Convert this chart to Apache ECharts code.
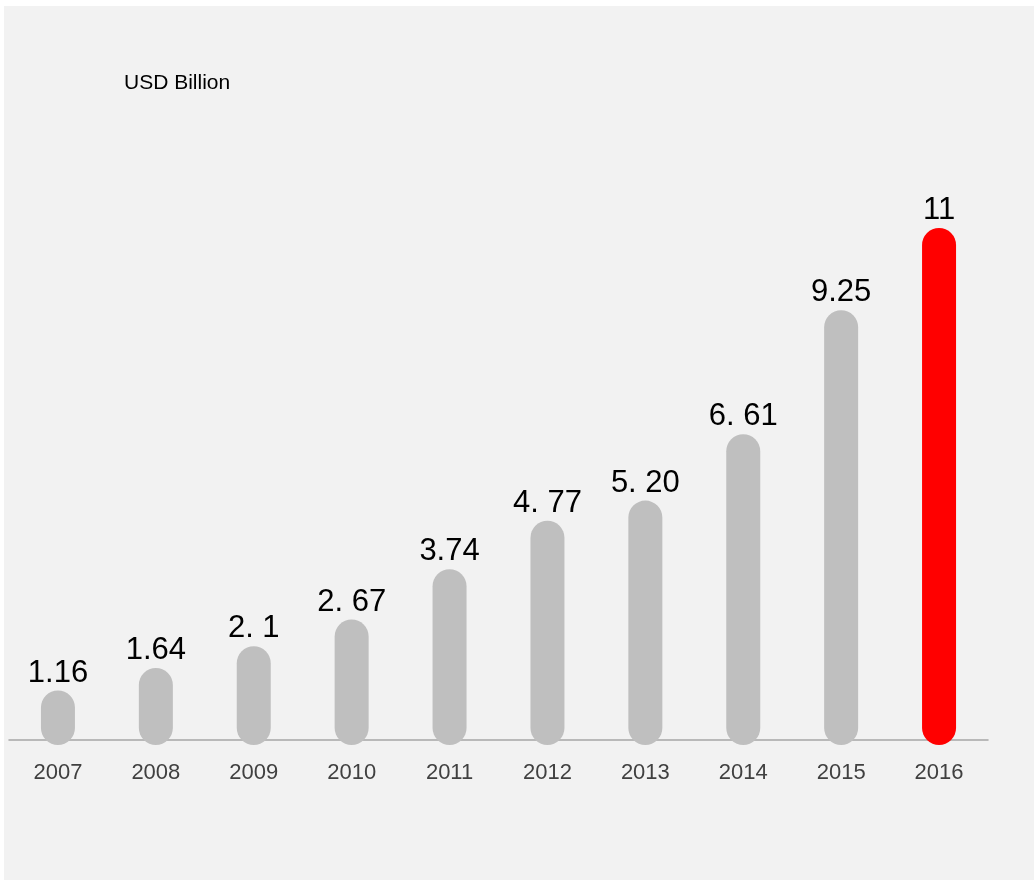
<!DOCTYPE html>
<html>
<head>
<meta charset="utf-8">
<script src="https://cdn.jsdelivr.net/npm/echarts@6/dist/echarts.min.js"></script>
<style>
  html, body { margin: 0; padding: 0; background: #ffffff; }
  #chart { position: absolute; left: 4px; top: 6px; width: 1030px; height: 874px; }
</style>
</head>
<body>
<div id="chart"></div>
<script>
// Yearly values, USD billion
const years = ['2007', '2008', '2009', '2010', '2011', '2012', '2013', '2014', '2015', '2016'];
const values = [1.16, 1.64, 2.1, 2.67, 3.74, 4.77, 5.20, 6.61, 9.25, 11];
// Value labels as printed above each bar
const valueLabels = ['1.16', '1.64', '2. 1', '2. 67', '3.74', '4. 77', '5. 20', '6. 61', '9.25', '11'];
const highlightYear = '2016';

const chart = echarts.init(document.getElementById('chart'), null, { renderer: 'canvas' });

const option = {
  backgroundColor: '#f2f2f2',
  animation: false,
  title: {
    text: 'USD Billion',
    left: 115,
    top: 62,
    textStyle: {
      fontFamily: 'Liberation Sans, Arial, sans-serif',
      fontSize: 21,
      fontWeight: 'normal',
      color: '#000000'
    }
  },
  grid: { left: 5, right: 46, top: 81, bottom: 135 },
  xAxis: {
    type: 'category',
    data: years,
    offset: -5,
    axisLine: { lineStyle: { color: '#a6a6a6', width: 1.5 } },
    axisTick: { show: false },
    axisLabel: {
      margin: 22,
      fontFamily: 'Liberation Sans, Arial, sans-serif',
      fontSize: 22,
      color: '#404040'
    }
  },
  yAxis: {
    type: 'value',
    min: 0,
    max: 14,
    show: false,
    splitLine: { show: false }
  },
  series: [{
    type: 'bar',
    barWidth: 34,
    data: values.map((v, i) => ({
      value: v,
      itemStyle: { color: years[i] === highlightYear ? '#ff0000' : '#bfbfbf' }
    })),
    itemStyle: { borderRadius: 17 },
    label: {
      show: true,
      position: 'top',
      distance: 2,
      fontFamily: 'Liberation Sans, Arial, sans-serif',
      fontSize: 31,
      color: '#000000',
      formatter: p => valueLabels[p.dataIndex]
    }
  }]
};

chart.setOption(option);
</script>
</body>
</html>
